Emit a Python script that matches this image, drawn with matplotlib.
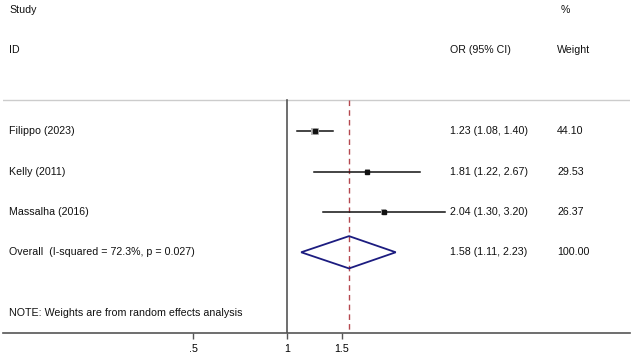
import matplotlib.pyplot as plt
import matplotlib.transforms as mtransforms
from matplotlib.patches import Polygon, Rectangle
import numpy as np

plt.rcParams['font.family'] = ['Liberation Sans', 'DejaVu Sans']

# study data
studies = ['Filippo (2023)', 'Kelly (2011)', 'Massalha (2016)']
odds = [1.23, 1.81, 2.04]
lower = [1.08, 1.22, 1.30]
upper = [1.40, 2.67, 3.20]
weights = [44.10, 29.53, 26.37]
overall_label = 'Overall  (I-squared = 72.3%, p = 0.027)'
overall = [1.58, 1.11, 2.23]
ticks = [0.5, 1, 1.5]
tick_labels = ['.5', '1', '1.5']

W, H = 632, 357
fig = plt.figure(figsize=(W / 100, H / 100), dpi=100)
ax = fig.add_axes([3 / W, (H - 333) / H, 627 / W, 333 / H])
ax.set_xscale('log')
ax.set_xlim(0.1231, 12.55)
ax.set_ylim(5.0, -3.25)

for s in ['top', 'left', 'right']:
    ax.spines[s].set_visible(False)
ax.spines['bottom'].set_color('#555555')
ax.spines['bottom'].set_linewidth(1.2)
ax.set_xticks(ticks)
ax.set_xticklabels(tick_labels)
ax.xaxis.set_minor_locator(plt.NullLocator())
ax.tick_params(axis='x', length=4, width=1, color='#555555', labelsize=7.65, pad=4)
ax.set_yticks([])

# px-x, data-y transform for text columns
tr = mtransforms.blended_transform_factory(fig.transFigure, ax.transData)
fs = 7.65
def txt(px, row, s):
    ax.text(px / W, row, s, transform=tr, fontsize=fs, va='center', ha='left', color='#111111')

txt(9, -3, 'Study')
txt(9, -2, 'ID')
txt(450, -2, 'OR (95% CI)')
txt(561, -3, '%')
txt(557, -2, 'Weight')

# header rule
ax.plot([0, 1], [-0.77, -0.77], transform=mtransforms.blended_transform_factory(ax.transAxes, ax.transData),
        color='#cccccc', lw=1)

top = -0.77
ax.plot([1, 1], [top, 5.0], color='#555555', lw=1.2, zorder=2)
ax.plot([overall[0], overall[0]], [top, 5.0], color='#b5484f', lw=1, ls=(0, (4, 3)), zorder=2)

for i, (name, o, lo, hi, w) in enumerate(zip(studies, odds, lower, upper, weights)):
    ax.plot([lo, hi], [i, i], color='#111111', lw=1.1, zorder=3)
    # weight box (size ~ sqrt(weight))
    half = 0.0040 * np.sqrt(w)
    hb = half * 135.6 / 40.3
    ax.add_patch(Rectangle((o * np.exp(-half), i - hb), o * np.exp(half) - o * np.exp(-half), 2 * hb,
                           facecolor='#b4b4b4', edgecolor='none', zorder=4))
    ax.plot([o], [i], marker='s', ms=2.2, color='#111111', zorder=5)
    txt(9, i, name)
    txt(450, i, f'{o:.2f} ({lo:.2f}, {hi:.2f})')
    txt(557, i, f'{w:.2f}')

# overall diamond
r = 3
ax.add_patch(Polygon([[overall[1], r], [overall[0], r - 0.4], [overall[2], r], [overall[0], r + 0.4]],
                     closed=True, facecolor='none', edgecolor='#1c1c80', lw=1.3, zorder=4))
txt(9, r, overall_label)
txt(450, r, f'{overall[0]:.2f} ({overall[1]:.2f}, {overall[2]:.2f})')
txt(557, r, '100.00')

txt(9, 4.5, 'NOTE: Weights are from random effects analysis')

fig.savefig('out.png', dpi=100)
